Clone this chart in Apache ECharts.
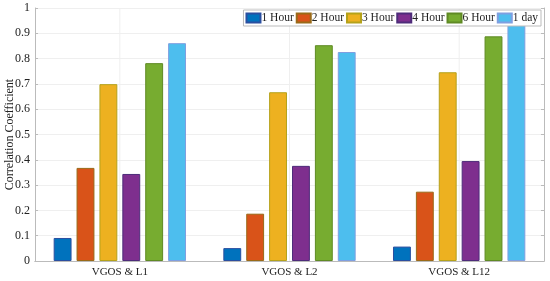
<!DOCTYPE html>
<html>
<head>
<meta charset="utf-8">
<script src="https://cdn.jsdelivr.net/npm/echarts@6/dist/echarts.min.js"></script>
<style>
  html, body { margin: 0; padding: 0; background: #fff; }
  #chart { width: 550px; height: 281px; }
</style>
</head>
<body>
<div id="chart"></div>
<script>
const categories = ['VGOS & L1', 'VGOS & L2', 'VGOS & L12']
const seriesNames = ['1 Hour', '2 Hour', '3 Hour', '4 Hour', '6 Hour', '1 day']
const hour1 = [0.091, 0.051, 0.057]
const hour2 = [0.368, 0.187, 0.274]
const hour3 = [0.699, 0.667, 0.746]
const hour4 = [0.344, 0.376, 0.395]
const hour6 = [0.782, 0.853, 0.888]
const day1 = [0.861, 0.826, 0.933]
const yTicks = ['0', '0.1', '0.2', '0.3', '0.4', '0.5', '0.6', '0.7', '0.8', '0.9', '1']

const values = [hour1, hour2, hour3, hour4, hour6, day1]
const colors = ['#0072BD', '#D95319', '#EDB120', '#7E2F8E', '#77AC30', '#4DBEEE']
const edges = ['#2a4fa0', '#9a6a18', '#b5a21a', '#4e2c7a', '#5f8a24', '#7f9fe0']

const myChart = echarts.init(document.getElementById('chart'))

const option = {
  animation: false,
  textStyle: { fontFamily: 'Liberation Serif' },
  grid: { left: 35, right: 6, top: 8, bottom: 20, outerBoundsMode: 'none', containLabel: false },
  legend: {
    data: seriesNames,
    icon: 'rect',
    right: 9,
    top: 10,
    itemWidth: 14,
    itemHeight: 9,
    itemGap: 2,
    padding: [2, 3, 2, 2],
    borderColor: '#bbb',
    borderWidth: 1,
    backgroundColor: '#fff',
    textStyle: { fontFamily: 'Liberation Serif', fontSize: 11.5, color: '#222', padding: [0, 0, 0, -4] }
  },
  xAxis: [{
    type: 'category',
    data: categories,
    axisLine: { lineStyle: { color: '#bbb' } },
    axisTick: { show: false },
    splitLine: { show: false },
    axisLabel: { fontFamily: 'Liberation Serif', fontSize: 11, color: '#222', margin: 6 }
  }, {
    type: 'category',
    data: categories,
    position: 'top',
    axisLine: { show: true, lineStyle: { color: '#bbb' } },
    axisTick: { show: false },
    axisLabel: { show: false }
  }],
  yAxis: [{
    type: 'value',
    min: 0,
    max: 1,
    interval: 0.1,
    name: 'Correlation Coefficient',
    nameLocation: 'middle',
    nameGap: 19,
    nameMoveOverlap: false,
    nameTextStyle: { fontFamily: 'Liberation Serif', fontSize: 12, color: '#222' },
    axisLine: { show: true, lineStyle: { color: '#bbb' } },
    axisTick: { show: true, inside: true, length: 3, lineStyle: { color: '#bbb' } },
    splitLine: { lineStyle: { color: '#efefef' } },
    axisLabel: {
      fontFamily: 'Liberation Serif',
      fontSize: 12,
      color: '#222',
      margin: 5,
      formatter: v => yTicks[Math.round(v * 10)]
    }
  }, {
    type: 'value',
    min: 0,
    max: 1,
    interval: 0.1,
    position: 'right',
    axisLine: { show: true, lineStyle: { color: '#bbb' } },
    axisTick: { show: true, inside: true, length: 3, lineStyle: { color: '#bbb' } },
    splitLine: { show: false },
    axisLabel: { show: false }
  }],
  series: seriesNames.map((name, i) => ({
    name: name,
    type: 'bar',
    data: values[i],
    barGap: '28%',
    barCategoryGap: '22%',
    itemStyle: { color: colors[i], borderColor: edges[i], borderWidth: 1 }
  }))
}

myChart.setOption(option)

// faint vertical grid at category centres
myChart.setOption({
  graphic: categories.map((c, i) => {
    const x = myChart.convertToPixel({ xAxisIndex: 0 }, c)
    return {
      type: 'line',
      silent: true,
      z: -1,
      shape: { x1: x, y1: 8, x2: x, y2: 261 },
      style: { stroke: '#efefef', lineWidth: 1 }
    }
  })
})

window.addEventListener('resize', () => {
  myChart.resize()
})
</script>
</body>
</html>
